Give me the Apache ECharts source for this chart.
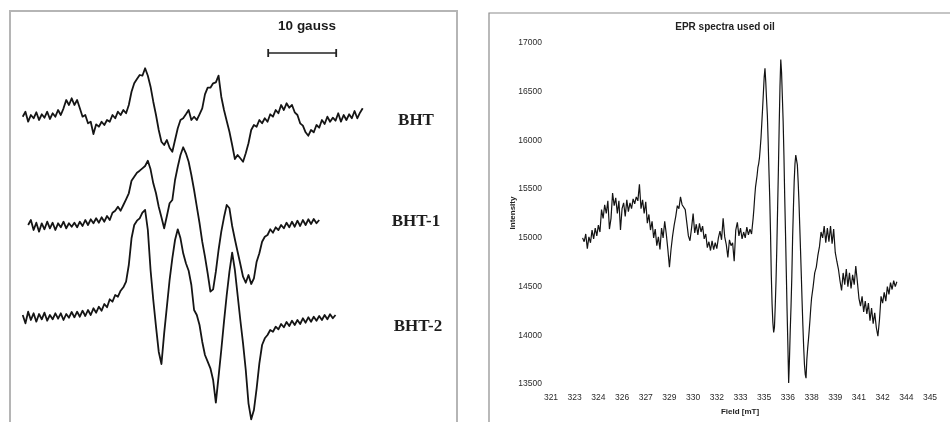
<!DOCTYPE html>
<html>
<head>
<meta charset="utf-8">
<script src="https://cdn.jsdelivr.net/npm/echarts@6/dist/echarts.min.js"></script>
<style>
  html, body { margin: 0; padding: 0; background: #ffffff; }
  #chart { width: 950px; height: 422px; }
</style>
</head>
<body>
<div id="chart"></div>
<script>
// ---------- Left panel: BHT radical spectra (field sweep in gauss, signal in a.u.) ----------
const sweepGauss = [
  0.4, 0.8, 1.2, 1.6, 2.0, 2.4, 2.8, 3.2, 3.6, 4.0,
  4.4, 4.8, 5.2, 5.6, 6.0, 6.4, 6.8, 7.2, 7.6, 8.0,
  8.4, 8.8, 9.2, 9.6, 10.0, 10.4, 10.8, 11.2, 11.6, 12.0,
  12.4, 12.8, 13.2, 13.6, 14.0, 14.4, 14.8, 15.2, 15.6, 16.0,
  16.4, 16.8, 17.2, 17.6, 18.0, 18.4, 18.8, 19.2, 19.6, 20.0,
  20.4, 20.8, 21.2, 21.6, 22.0, 22.4, 22.8, 23.2, 23.6, 24.0,
  24.4, 24.8, 25.2, 25.6, 26.0, 26.4, 26.8, 27.2, 27.6, 28.0,
  28.4, 28.8, 29.2, 29.6, 30.0, 30.4, 30.8, 31.2, 31.6, 32.0,
  32.4, 32.8, 33.2, 33.6, 34.0, 34.4, 34.8, 35.2, 35.6, 36.0,
  36.4, 36.8, 37.2, 37.6, 38.0, 38.4, 38.8, 39.2, 39.6, 40.0,
  40.4, 40.8, 41.2, 41.6, 42.0, 42.4, 42.8, 43.2, 43.6, 44.0,
  44.4, 44.8, 45.2, 45.6, 46.0, 46.4, 46.8, 47.2, 47.6, 48.0,
  48.4, 48.8, 49.2, 49.6, 50.0, 50.4
];

const bhtSignal = [
  0.3, 5.3, -4.7, 2, -1.3, 4.7, -3, 2.7, -0.7, 5.3,
  -2, 3.7, 0.3, 7, 2, 8.7, 17, 12, 18.7, 12,
  17, 8.7, 0.3, 2, -6.3, -4.7, -17, -7.3, -9.7, -4.7,
  -8, -3, -4.7, 2, -1.3, 5.3, 2, 7, 3.7, 12,
  25.3, 33.7, 38, 42, 41.3, 48.7, 41.3, 30.3, 15.3, 2,
  -13, -24.7, -28, -23, -30.7, -34.7, -23, -11.3, -3, -1.3,
  2.7, 7, -3, 0.3, -3, 2.7, 8.7, 22.7, 29.3, 29.3,
  33.7, 34.7, 41.3, 20.3, 7, -4, -14.7, -28, -42, -38,
  -41.3, -44.7, -36.3, -26.3, -13, -8, -9.7, -3, -6.3, -1.3,
  -4.7, 2.7, 0.3, 7, 3.7, 12, 7, 13.7, 9.3, 12,
  4.7, 2, -6.3, -8.7, -15.3, -18.7, -13, -15.3, -8, -10.7,
  -3, -7, 0.3, -4.7, -0.7, -3.7, 3.7, -4.7, 2, -3,
  2.7, -1.3, 6, -1.3, 4.3, 8.7
];

const bht1Signal = [
  null, null, -1, 4, -6, 1.3, -7.7, 0.7, -5.3, 2.3,
  -4.3, 1.3, -6, 0.7, -3.3, 2.3, -4.3, 0.7, -2.7, 1.3,
  -3.3, 2.3, -2, 4, -1, 4.7, 0.7, 5.7, 1.3, 6.7,
  2.3, 8, 4, 11.3, 13.3, 17.3, 13.3, 19, 24.7, 30.7,
  43.3, 47.3, 51.3, 53.3, 55.7, 58, 63.3, 54.7, 40.7, 30.7,
  17.3, 6.7, -4.3, 8, 20.7, 24, 44, 57.3, 69, 76.7,
  70.7, 62.3, 49, 34, 17.3, 1, -17.7, -32.7, -49.3, -67.7,
  -65.3, -47.7, -26, -7.7, 6.7, 19, 15.7, -2, -15.3, -27.7,
  -40, -52.7, -58.7, -51, -60, -54.3, -37.7, -29.3, -17.7, -12.7,
  -11, -5.3, -8.7, -3.3, -6, -1, -4.3, 1.3, -3.3, 2.3,
  -2.7, 3.3, -2, 4, -1, 4.7, 0, 5, 0.7, 4
];

const bht2Signal = [
  3, -5.3, 6.3, -2, 4.7, -3.7, 4, -1.3, 5.3, -2.7,
  3, -1.3, 4.7, -0.7, 4.7, -2, 4, 0.3, 6, 0.7,
  6.3, 1.3, 7.3, 2, 8, 3, 9.7, 5.3, 11.3, 7.3,
  14, 10.7, 18.7, 16.3, 23, 21.3, 27.3, 30.7, 36.3, 53,
  79.7, 93, 97.3, 99.7, 105.3, 108, 88, 48, 18, -8.7,
  -33.7, -46, -15.3, 11.3, 38, 59.7, 78, 88.7, 79.7, 64.7,
  54.7, 47.3, 33, 8, 3, -7, -23.7, -37, -43.7, -50.3,
  -62, -84.7, -58.7, -32, -3.7, 23, 46.3, 65.3, 48, 23,
  -2, -25.3, -52, -85.3, -101.3, -92, -70.3, -45.3, -27, -20.3,
  -17, -12, -13.7, -8.7, -11.3, -6, -9.3, -4, -8, -2.7,
  -7, -2, -6, -0.3, -4.7, 0.7, -3.7, 1.3, -2.7, 2,
  -2, 3, -1.3, 3.7, -0.3, 3
];

const traceNames = ['BHT', 'BHT-1', 'BHT-2'];
const traceSignals = [bhtSignal, bht1Signal, bht2Signal];
// vertical stacking offsets of the three spectra (a.u.)
const traceBaselines = [305, 198, 104];
const scaleBarGauss = [36.5, 46.5];

// ---------- Right panel: EPR spectrum of used oil ----------
const usedOilSpectrum = [
  [323.0,15000],[323.1,14960],[323.2,15040],[323.3,14890],[323.4,15010],[323.5,14950],[323.6,15080],[323.7,14990],[323.8,15100],[323.9,15020],
  [324.0,15130],[324.1,15060],[324.2,15290],[324.3,15200],[324.4,15340],[324.5,15250],[324.6,15380],[324.7,15090],[324.8,15200],[324.9,15460],
  [325.0,15330],[325.1,15410],[325.2,15250],[325.3,15380],[325.4,15080],[325.5,15300],[325.6,15360],[325.7,15220],[325.8,15390],[325.9,15270],
  [326.0,15360],[326.1,15300],[326.2,15400],[326.3,15350],[326.4,15420],[326.5,15380],[326.6,15550],[326.7,15300],[326.8,15390],[326.9,15250],
  [327.0,15370],[327.1,15150],[327.2,15240],[327.3,15080],[327.4,15170],[327.5,15000],[327.6,15090],[327.7,14920],[327.8,15010],[327.9,14880],
  [328.0,15100],[328.1,15000],[328.2,15170],[328.3,15040],[328.4,14880],[328.5,14700],[328.6,14880],[328.7,15020],[328.8,15130],[328.9,15220],
  [329.0,15330],[329.1,15300],[329.2,15420],[329.3,15340],[329.4,15360],[329.5,15290],[329.6,15310],[329.7,15020],[329.8,14970],[329.9,15100],
  [330.0,15250],[330.1,15050],[330.2,15140],[330.3,15030],[330.4,15150],[330.5,15060],[330.6,15120],[330.7,14990],[330.8,15040],[330.9,14900],
  [331.0,14960],[331.1,14870],[331.2,14970],[331.3,14880],[331.4,14950],[331.5,14890],[331.6,15000],[331.7,15070],[331.8,14980],[331.9,15200],
  [332.0,15010],[332.1,14930],[332.2,14800],[332.3,14980],[332.4,14920],[332.5,14950],[332.6,14760],[332.7,15080],[332.8,15160],[332.9,15020],
  [333.0,15100],[333.1,14990],[333.2,15060],[333.3,15000],[333.4,15110],[333.5,15030],[333.6,15090],[333.7,15040],[333.8,15200],
  [333.85,15300],[333.9,15420],[333.95,15520],[334.0,15580],[334.05,15640],[334.1,15720],[334.15,15760],[334.2,15820],[334.25,15920],[334.3,16030],
  [334.35,16180],[334.4,16330],[334.45,16490],[334.5,16650],[334.55,16740],[334.6,16600],[334.65,16420],[334.7,16260],[334.75,16000],[334.8,15700],
  [334.85,15420],[334.9,15060],[334.95,14620],[335.0,14320],[335.05,14130],[335.1,14030],[335.15,14080],[335.2,14300],[335.25,14560],[335.3,14900],
  [335.35,15300],[335.4,15700],[335.45,16150],[335.5,16550],[335.55,16830],[335.6,16700],[335.65,16450],[335.7,16200],[335.75,15850],[335.8,15420],
  [335.85,15050],[335.9,14650],[335.95,14250],[336.0,13900],[336.05,13510],[336.1,13750],[336.15,14050],[336.2,14300],[336.25,14600],[336.3,15000],
  [336.35,15300],[336.4,15580],[336.45,15760],[336.5,15850],[336.55,15870],[336.6,15750],[336.65,15580],[336.7,15380],[336.75,15130],[336.8,14880],
  [336.85,14620],[336.9,14350],[336.95,14100],[337.0,13880],[337.05,13700],[337.1,13600],[337.15,13560],[337.2,13750],[337.25,13860],[337.3,13950],
  [337.35,14050],[337.4,14160],[337.45,14280],[337.5,14380],
  [337.6,14500],[337.7,14640],[337.8,14700],[337.9,14820],[338.0,14910],[338.1,15060],[338.2,15000],[338.3,15120],[338.4,14950],[338.5,15100],
  [338.6,14960],[338.7,15120],[338.8,14940],[338.9,15090],[339.0,14850],[339.1,14760],[339.2,14680],[339.3,14560],[339.4,14460],[339.5,14640],
  [339.6,14520],[339.7,14680],[339.8,14500],[339.9,14640],[340.0,14480],[340.1,14620],[340.2,14520],[340.3,14710],[340.4,14550],[340.5,14380],
  [340.6,14300],[340.7,14400],[340.8,14240],[340.9,14350],[341.0,14220],[341.1,14330],[341.2,14150],[341.3,14280],[341.4,14120],[341.5,14230],
  [341.6,14080],[341.7,13990],[341.8,14160],[341.9,14400],[342.0,14330],[342.1,14440],[342.2,14350],[342.3,14500],[342.4,14420],[342.5,14540],
  [342.6,14470],[342.7,14560],[342.8,14500],[342.9,14550]
];
const fieldAxisRange = [321, 345];
const fieldTickStep = 1.5;
const intensityAxisRange = [13500, 17000];
const intensityTickStep = 500;

// ---------- build series ----------
const SCAN_INK = '#151515';

function traceData(signal, baseline) {
  const out = [];
  signal.forEach((s, i) => {
    if (s !== null && i < sweepGauss.length) out.push([sweepGauss[i], baseline + s]);
  });
  return out;
}

const leftSeries = traceSignals.map((sig, i) => ({
  name: traceNames[i],
  type: 'line',
  xAxisIndex: 0,
  yAxisIndex: 0,
  data: traceData(sig, traceBaselines[i]),
  showSymbol: false,
  symbol: 'none',
  smooth: false,
  lineStyle: { color: SCAN_INK, width: 1.8, join: 'round' },
  silent: true,
  z: 3
}));

// 10 gauss scale bar with end ticks
leftSeries.push({
  name: 'scale',
  type: 'line',
  xAxisIndex: 0,
  yAxisIndex: 0,
  data: [[scaleBarGauss[0], 369], [scaleBarGauss[1], 369]],
  symbol: 'rect',
  symbolSize: [1.8, 8],
  showSymbol: true,
  itemStyle: { color: '#222' },
  lineStyle: { color: '#222', width: 1.6 },
  silent: true
});

const rightSeries = {
  name: 'EPR spectra used oil',
  type: 'line',
  xAxisIndex: 1,
  yAxisIndex: 1,
  data: usedOilSpectrum,
  showSymbol: false,
  symbol: 'none',
  lineStyle: { color: '#141414', width: 1.2 },
  silent: true
};

function txt(x, y, text, font, fill, extra) {
  return Object.assign({
    type: 'text', x: x, y: y, silent: true,
    style: {
      text: text, font: font, fill: fill,
      textAlign: 'center', textVerticalAlign: 'middle',
      align: 'center', verticalAlign: 'middle'
    }
  }, extra || {});
}

const labelFont = '"Liberation Sans", Arial, sans-serif';
const serifFont = '"Liberation Serif", "DejaVu Serif", serif';

const option = {
  animation: false,
  backgroundColor: '#ffffff',
  grid: [
    { left: 20, top: 11, width: 353.6, height: 411, containLabel: false },
    { left: 551, top: 43, width: 379, height: 341, containLabel: false }
  ],
  xAxis: [
    { gridIndex: 0, type: 'value', min: 0, max: 52, show: false },
    {
      gridIndex: 1, type: 'value',
      min: fieldAxisRange[0], max: fieldAxisRange[1], interval: fieldTickStep,
      axisLine: { show: false }, axisTick: { show: false }, splitLine: { show: false },
      axisLabel: {
        margin: 9, color: '#2a2a2a', fontSize: 8.5, fontFamily: labelFont,
        formatter: v => String(Math.round(v + 1e-6))
      }
    }
  ],
  yAxis: [
    { gridIndex: 0, type: 'value', min: 0, max: 411, show: false },
    {
      gridIndex: 1, type: 'value',
      min: intensityAxisRange[0], max: intensityAxisRange[1], interval: intensityTickStep,
      axisLine: { show: false }, axisTick: { show: false }, splitLine: { show: false },
      axisLabel: {
        margin: 9, color: '#2a2a2a', fontSize: 8.5, fontFamily: labelFont,
        formatter: v => String(Math.round(v))
      }
    }
  ],
  series: leftSeries.concat([rightSeries]),
  graphic: [
    // panel frames
    { type: 'rect', silent: true, shape: { x: 10, y: 11, width: 447, height: 440 },
      style: { fill: 'none', stroke: '#b5b5b5', lineWidth: 2 } },
    { type: 'rect', silent: true, shape: { x: 489, y: 13, width: 480, height: 440 },
      style: { fill: 'none', stroke: '#8c8c8c', lineWidth: 1.2 } },
    // left panel texts
    txt(307, 26, '10 gauss', 'bold 13.5px ' + labelFont, '#1a1a1a'),
    txt(416, 121, traceNames[0], 'bold 17px ' + serifFont, '#1e1e1e'),
    txt(416, 222, traceNames[1], 'bold 17px ' + serifFont, '#1e1e1e'),
    txt(418, 327, traceNames[2], 'bold 17px ' + serifFont, '#1e1e1e'),
    // right panel texts
    txt(725, 27, 'EPR spectra used oil', 'bold 10px ' + labelFont, '#222'),
    txt(740, 412, 'Field [mT]', 'bold 8px ' + labelFont, '#222'),
    txt(513, 213, 'Intensity', 'bold 8px ' + labelFont, '#222', { rotation: Math.PI / 2 })
  ]
};

const chart = echarts.init(document.getElementById('chart'), null, { renderer: 'canvas' });
chart.setOption(option);
</script>
</body>
</html>
